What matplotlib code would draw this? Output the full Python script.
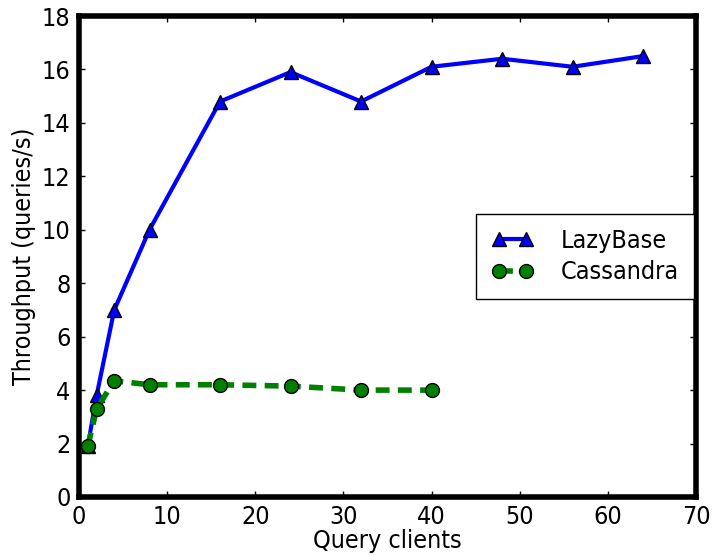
import matplotlib
matplotlib.use("Agg")
import matplotlib.pyplot as plt

plt.rcParams['font.family'] = ['DejaVu Sans']
plt.rcParams['font.stretch'] = 'condensed'

lazy_x = [1, 2, 4, 8, 16, 24, 32, 40, 48, 56, 64]
lazy_y = [1.9, 3.8, 7.0, 10.0, 14.8, 15.9, 14.8, 16.1, 16.4, 16.1, 16.5]
cass_x = [1, 2, 4, 8, 16, 24, 32, 40]
cass_y = [1.9, 3.3, 4.35, 4.2, 4.2, 4.15, 4.0, 4.0]

fig = plt.figure(figsize=(7.14, 5.56), dpi=100)
ax = fig.add_axes([79/714, 1-497/556, (696-79)/714, (497-16)/556])
ax.plot(lazy_x, lazy_y, '-', color='blue', lw=3, marker='^', ms=10,
        markerfacecolor='blue', markeredgecolor='black', markeredgewidth=1, label='LazyBase')
ax.plot(cass_x, cass_y, '--', color='green', lw=4, marker='o', ms=10, dashes=(2.5, 1.5),
        markerfacecolor='green', markeredgecolor='black', markeredgewidth=1, label='Cassandra')
ax.set_xlim(0, 70)
ax.set_ylim(0, 18)
ax.set_xticks(range(0, 71, 10))
ax.set_yticks(range(0, 19, 2))
for s in ax.spines.values():
    s.set_linewidth(4)
ax.tick_params(direction='in', length=4, width=1, labelsize=18, top=True, right=True, pad=6)
ax.set_xlabel('Query clients', fontsize=18, labelpad=0)
ax.set_ylabel('Throughput (queries/s)', fontsize=18, labelpad=4)
leg = ax.legend(loc='center right', bbox_to_anchor=(0.997, 0.50), numpoints=2, fontsize=18,
                fancybox=False, framealpha=1, borderpad=0.6, labelspacing=0.3, handlelength=1.7,
                handletextpad=1.1, borderaxespad=0)
leg.get_frame().set_edgecolor('black')
leg.get_frame().set_linewidth(1)
fig.savefig('out.png', dpi=100)
